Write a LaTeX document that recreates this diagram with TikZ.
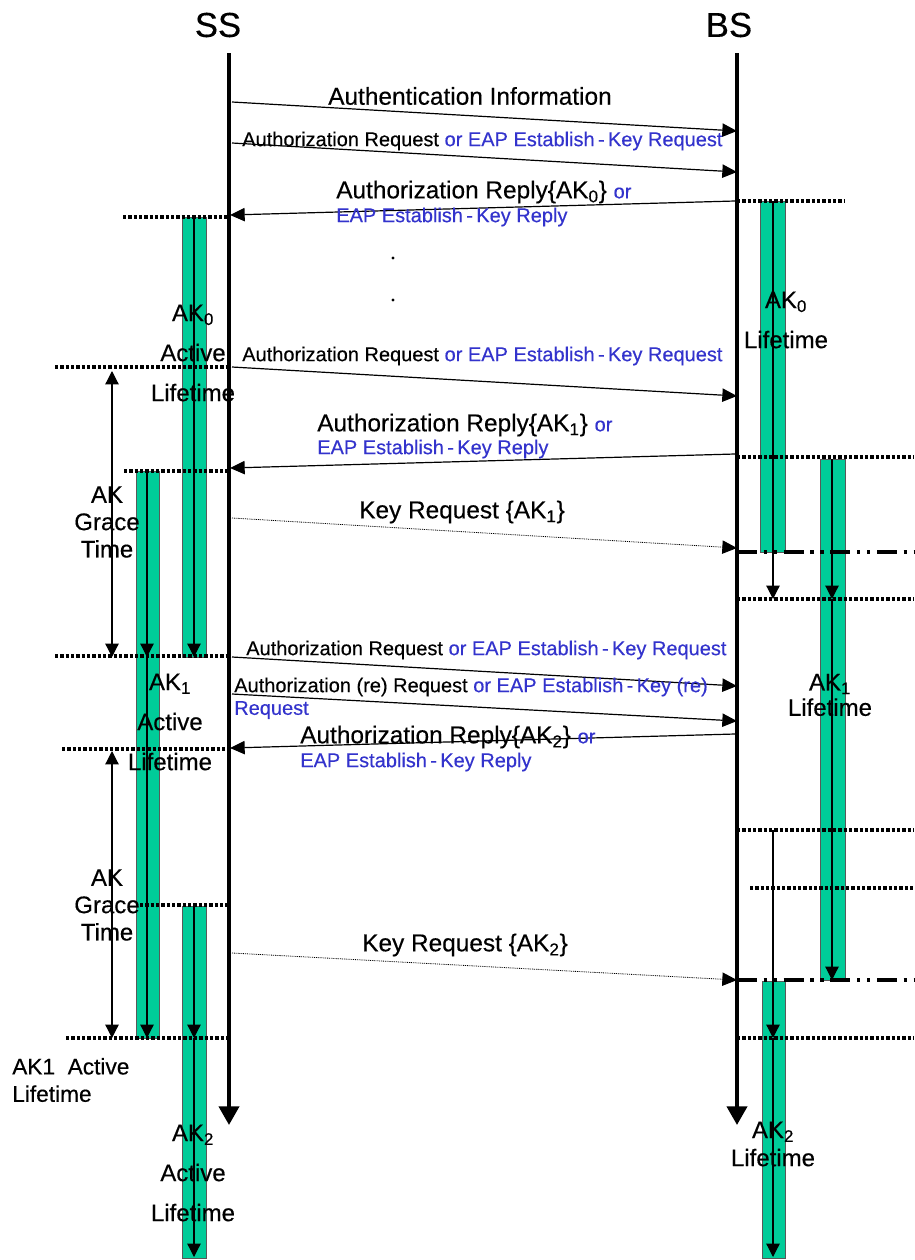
\documentclass[tikz,border=0pt]{standalone}
\usepackage{fontspec}
\setmainfont{Liberation Sans}[UprightFeatures={FakeBold=0.35}]
\usetikzlibrary{arrows.meta,positioning,calc}
\definecolor{akg}{HTML}{00CC99}
\definecolor{eapc}{HTML}{3333CC}
\newcommand{\eap}[1]{\textcolor{eapc}{#1}}
\newcommand{\estab}{Establish\,-\,Key}
\tikzset{
  head/.style={font=\fontsize{26}{28}\selectfont,inner sep=0pt},
  big/.style={font=\fontsize{18.3}{20}\selectfont,inner sep=0pt},
  sml/.style={font=\fontsize{15}{16}\selectfont,inner sep=0pt},
  life/.style={line width=3pt,-{Triangle[length=14pt,width=15pt]}},
  msg/.style={line width=0.9pt,-{Triangle[length=11pt,width=10pt]}},
  kmsg/.style={msg,line width=0.6pt,dash pattern=on 0.7pt off 0.7pt},
  cut/.style={line width=2.4pt,dash pattern=on 2.4pt off 1.6pt},
  dcut/.style={line width=2.4pt,dash pattern=on 15pt off 5pt on 2.5pt off 5pt on 2.5pt off 5pt},
  bar/.style={draw=black!65,fill=akg,line width=0.7pt},
  keyln/.style={line width=0.9pt,-{Triangle[length=10pt,width=10pt]}},
  span/.style={line width=0.9pt,{Triangle[length=10pt,width=10pt]}-{Triangle[length=10pt,width=10pt]}},
}
\begin{document}
\begin{tikzpicture}[x=0.75pt,y=-0.75pt]
\useasboundingbox (0,0) rectangle (914,1260);

% key lifetime bars, SS side
\draw[bar] (182,217) rectangle (206,657);
\draw[bar] (136,471) rectangle (159,1038);
\draw[bar] (182,906) rectangle (206,1258);
% key lifetime bars, BS side
\draw[bar] (760,201) rectangle (785,552);
\draw[bar] (820,459) rectangle (845,980);
\draw[bar] (762,981) rectangle (785,1258);

% lines inside the bars
\coordinate (k0a) at (194,217); \coordinate (k0b) at (194,657);
\coordinate (k1a) at (147,471); \coordinate (k1b) at (147,657); \coordinate (k1c) at (147,1038);
\coordinate (k2a) at (194,906); \coordinate (k2b) at (194,1038); \coordinate (k2c) at (194,1257);
\draw[keyln] (k0a) -- (k0b);
\draw[keyln] (k1a) -- (k1b);
\draw[keyln] (k1b) -- (k1c);
\draw[keyln] (k2a) -- (k2b);
\draw[keyln] (k2b) -- (k2c);
\coordinate (b0a) at (773,201); \coordinate (b0b) at (773,599);
\coordinate (b1a) at (832,459); \coordinate (b1b) at (832,599); \coordinate (b1c) at (832,980);
\coordinate (b2a) at (773,830); \coordinate (b2b) at (773,1038); \coordinate (b2c) at (773,1257);
\draw[keyln] (b0a) -- (b0b);
\draw[keyln] (b1a) -- (b1b);
\draw[keyln] (b1b) -- (b1c);
\draw[keyln] (b2a) -- (b2b);
\draw[keyln] (b2b) -- (b2c);

% dotted time marks
\foreach \y/\xa/\xb in {217/123/229, 367/55/229, 471/124/229, 656/55/229,
    749/62/229, 905/140/229, 1038/66/229, 201/737/845, 457/737/914,
    599/737/914, 830/737/914, 888/750/914, 1038/737/914}
  \draw[cut] (\xa,\y) -- (\xb,\y);
\draw[dcut] (737,552) -- (914,552);
\draw[dcut] (737,980) -- (914,980);

% grace time spans
\coordinate (g1a) at (112,371); \coordinate (g1b) at (112,657);
\coordinate (g2a) at (112,751); \coordinate (g2b) at (112,1038);
\draw[span] (g1a) -- (g1b);
\draw[span] (g2a) -- (g2b);

% lifelines
\node[head] (ss) at (218,25) {SS};
\node[head] (bs) at (729,25) {BS};
\coordinate (ssT) at (229,53); \coordinate (ssE) at (229,1125);
\coordinate (bsT) at (737,53); \coordinate (bsE) at (737,1125);
\draw[life] (ssT) -- (ssE);
\draw[life] (bsT) -- (bsE);

% messages
\coordinate (m1a) at (232,102);  \coordinate (m1b) at (737,131);
\coordinate (m2a) at (232,143);  \coordinate (m2b) at (737,172);
\coordinate (m3a) at (735,201);  \coordinate (m3b) at (230,215);
\coordinate (m4a) at (232,367);  \coordinate (m4b) at (737,396);
\coordinate (m5a) at (735,454);  \coordinate (m5b) at (230,468);
\coordinate (m6a) at (232,518);  \coordinate (m6b) at (737,548);
\coordinate (m7a) at (232,657);  \coordinate (m7b) at (737,686);
\coordinate (m8a) at (232,694);  \coordinate (m8b) at (737,721);
\coordinate (m9a) at (735,734);  \coordinate (m9b) at (230,748);
\coordinate (m10a) at (232,953); \coordinate (m10b) at (737,980);
\draw[msg] (m1a) -- (m1b);
\draw[msg] (m2a) -- (m2b);
\draw[msg] (m3a) -- (m3b);
\draw[msg] (m4a) -- (m4b);
\draw[msg] (m5a) -- (m5b);
\draw[kmsg] (m6a) -- (m6b);
\draw[msg] (m7a) -- (m7b);
\draw[msg] (m8a) -- (m8b);
\draw[msg] (m9a) -- (m9b);
\draw[kmsg] (m10a) -- (m10b);
\fill (393,258) circle (1.6);
\fill (393,300) circle (1.6);

% message labels
\node[big] (t1) at (470,96) {Authentication Information};
\node[sml,anchor=west] (t2) at (242,141) {Authorization Request \eap{or EAP \estab{} Request}};
\node[big,anchor=west] (t3) at (336,192) {Authorization Reply\{AK\textsubscript{0}\}\ \fontsize{15}{16}\selectfont\eap{or}};
\node[sml,anchor=west] (t3b) at (336,217) {\eap{EAP \estab{} Reply}};
\node[sml,anchor=west] (t4) at (242,356) {Authorization Request \eap{or EAP \estab{} Request}};
\node[big,anchor=west] (t5) at (317,425) {Authorization Reply\{AK\textsubscript{1}\}\ \fontsize{15}{16}\selectfont\eap{or}};
\node[sml,anchor=west] (t5b) at (317,449) {\eap{EAP \estab{} Reply}};
\node[big] (t6) at (462,512) {Key Request \{AK\textsubscript{1}\}};
\node[sml,anchor=west] (t7) at (246,650) {Authorization Request \eap{or EAP \estab{} Request}};
\node[sml,anchor=west] (t8) at (234,687) {Authorization (re) Request \eap{or EAP \estab{} (re)}};
\node[sml,anchor=west] (t8b) at (234,710) {\eap{Request}};
\node[big,anchor=west] (t9) at (300,737) {Authorization Reply\{AK\textsubscript{2}\}\ \fontsize{15}{16}\selectfont\eap{or}};
\node[sml,anchor=west] (t9b) at (300,762) {\eap{EAP \estab{} Reply}};
\node[big] (t10) at (465,945) {Key Request \{AK\textsubscript{2}\}};

% lifetime labels
\node[big,align=center,font=\fontsize{18}{30}\selectfont] (ss0) at (193,353) {AK\textsubscript{0}\\Active\\Lifetime};
\node[big,align=center,font=\fontsize{18}{30}\selectfont] (ss1) at (170,722) {AK\textsubscript{1}\\Active\\Lifetime};
\node[big,align=center,font=\fontsize{18}{30}\selectfont] (ss2) at (193,1173) {AK\textsubscript{2}\\Active\\Lifetime};
\node[big,align=center,font=\fontsize{18}{20.5}\selectfont] (gr1) at (107,522) {AK\\Grace\\Time};
\node[big,align=center,font=\fontsize{18}{20.5}\selectfont] (gr2) at (107,905) {AK\\Grace\\Time};
\node[big,align=left,anchor=west,font=\fontsize{17}{20.5}\selectfont] (ak1) at (12,1080) {AK1\ \ Active\\Lifetime};
\node[big,align=center,font=\fontsize{18}{30}\selectfont] (bs0) at (786,320) {AK\textsubscript{0}\\Lifetime};
\node[big,align=center,font=\fontsize{18}{19}\selectfont] (bs1) at (830,695) {AK\textsubscript{1}\\Lifetime};
\node[big,align=center,font=\fontsize{18}{21}\selectfont] (bs2) at (773,1144) {AK\textsubscript{2}\\Lifetime};
\end{tikzpicture}
\end{document}
